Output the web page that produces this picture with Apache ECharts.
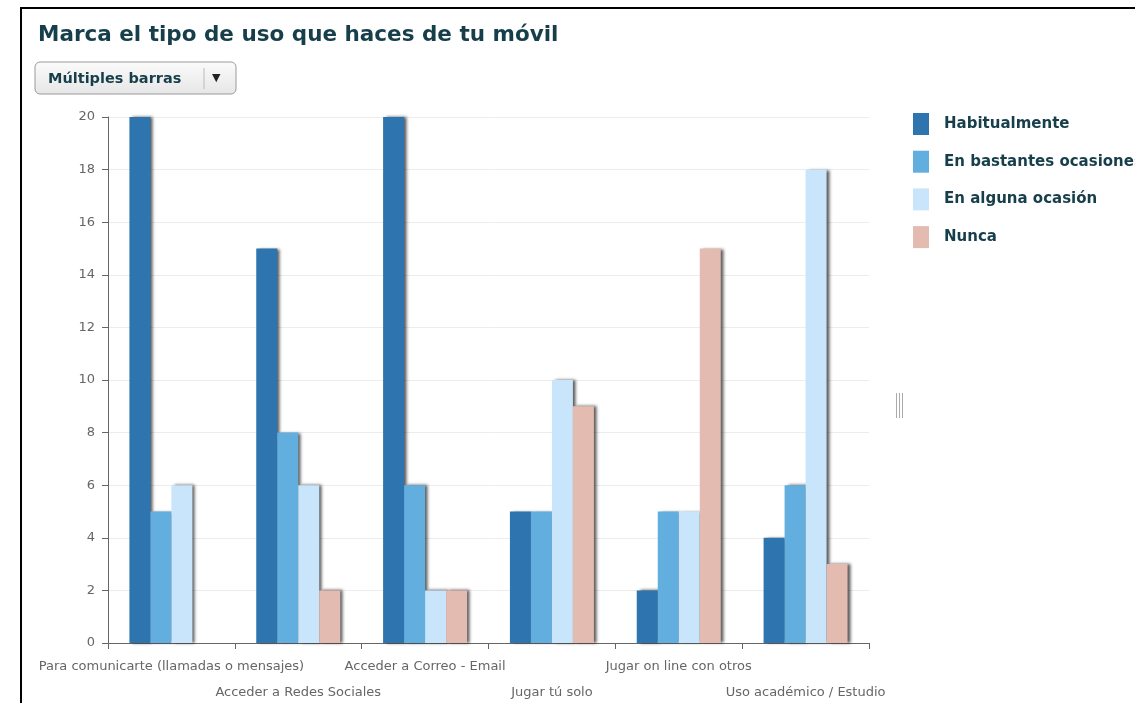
<!DOCTYPE html>
<html><head><meta charset="utf-8">
<script src="https://cdn.jsdelivr.net/npm/echarts@6/dist/echarts.min.js"></script>
<style>html,body{margin:0;padding:0;background:#fff;overflow:hidden}#c{width:1135px;height:703px}</style>
</head><body><div id="c"></div>
<script>
const categories = ['Para comunicarte (llamadas o mensajes)','Acceder a Redes Sociales','Acceder a Correo - Email','Jugar tú solo','Jugar on line con otros','Uso académico / Estudio'];
const seriesNames = ['Habitualmente','En bastantes ocasiones','En alguna ocasión','Nunca'];
const habitualmente = [20,15,20,5,2,4];
const bastantes = [5,8,6,5,5,6];
const alguna = [6,6,2,10,5,18];
const nunca = [0,2,2,9,15,3];
const yTicks = {min:0,max:20,interval:2};
const colors = ['#2e75b0','#62aedf','#c9e5fb','#e3bbb1'];
const values = [habitualmente,bastantes,alguna,nunca];

const chart = echarts.init(document.getElementById('c'));
const F = 'DejaVu Sans, Verdana, sans-serif';
chart.setOption({
  animation:false,
  color:colors,
  title:{text:'Marca el tipo de uso que haces de tu móvil',left:38,top:24,padding:0,textStyle:{fontFamily:F,fontSize:21.5,fontWeight:'bold',color:'#173f4b'}},
  legend:{orient:'vertical',left:913,top:113,padding:0,itemWidth:16,itemHeight:22,itemGap:15.7,icon:'rect',
    textStyle:{fontFamily:F,fontSize:15,fontWeight:'bold',color:'#173f4b',padding:[2,0,0,10]},data:seriesNames},
  grid:{left:108,right:266,top:117,bottom:60,containLabel:false,outerBoundsMode:'none'},
  xAxis:{type:'category',data:categories,
    axisLine:{show:true,onZero:false,lineStyle:{color:'#666'}},
    axisTick:{show:true,length:6,lineStyle:{color:'#666'}},
    axisLabel:{interval:0,margin:11,fontFamily:F,fontSize:13,color:'#666',lineHeight:26,
      formatter:(v,i)=> i%2 ? '\n'+v : v}},
  yAxis:{type:'value',min:yTicks.min,max:yTicks.max,interval:yTicks.interval,
    axisLine:{show:true,onZero:false,lineStyle:{color:'#666'}},
    axisTick:{show:true,length:6,lineStyle:{color:'#666'}},
    axisLabel:{margin:13,fontFamily:F,fontSize:13,color:'#666'},
    splitLine:{lineStyle:{color:'#ececec'}}},
  series: seriesNames.map((n,k)=>({name:n,type:'bar',data:values[k],barWidth:21,barGap:'0%',
    itemStyle:{shadowColor:'rgba(0,0,0,0.65)',shadowOffsetX:3,shadowOffsetY:0,shadowBlur:3}})),
  graphic:[
    {type:'rect',shape:{x:21,y:8,width:1300,height:800},style:{fill:'none',stroke:'#000',lineWidth:2},silent:true},
    {type:'rect',shape:{x:35,y:62,width:201,height:32,r:5},
      style:{fill:new echarts.graphic.LinearGradient(0,0,0,1,[{offset:0,color:'#fbfbfb'},{offset:1,color:'#e6e6e6'}]),stroke:'#9a9a9a',lineWidth:1}},
    {type:'text',left:48,top:72,style:{text:'Múltiples barras',font:'bold 14.5px DejaVu Sans',fill:'#173f4b'}},
    {type:'line',shape:{x1:204,y1:68,x2:204,y2:89},style:{stroke:'#bbb',lineWidth:1}},
    {type:'text',left:212,top:73,style:{text:'▼',font:'11px DejaVu Sans',fill:'#222'}},
    {type:'rect',shape:{x:896,y:393,width:1,height:25},style:{fill:'#aaa'}},
    {type:'rect',shape:{x:899,y:393,width:1,height:25},style:{fill:'#aaa'}},
    {type:'rect',shape:{x:902,y:393,width:1,height:25},style:{fill:'#aaa'}}
  ]
});
</script></body></html>
